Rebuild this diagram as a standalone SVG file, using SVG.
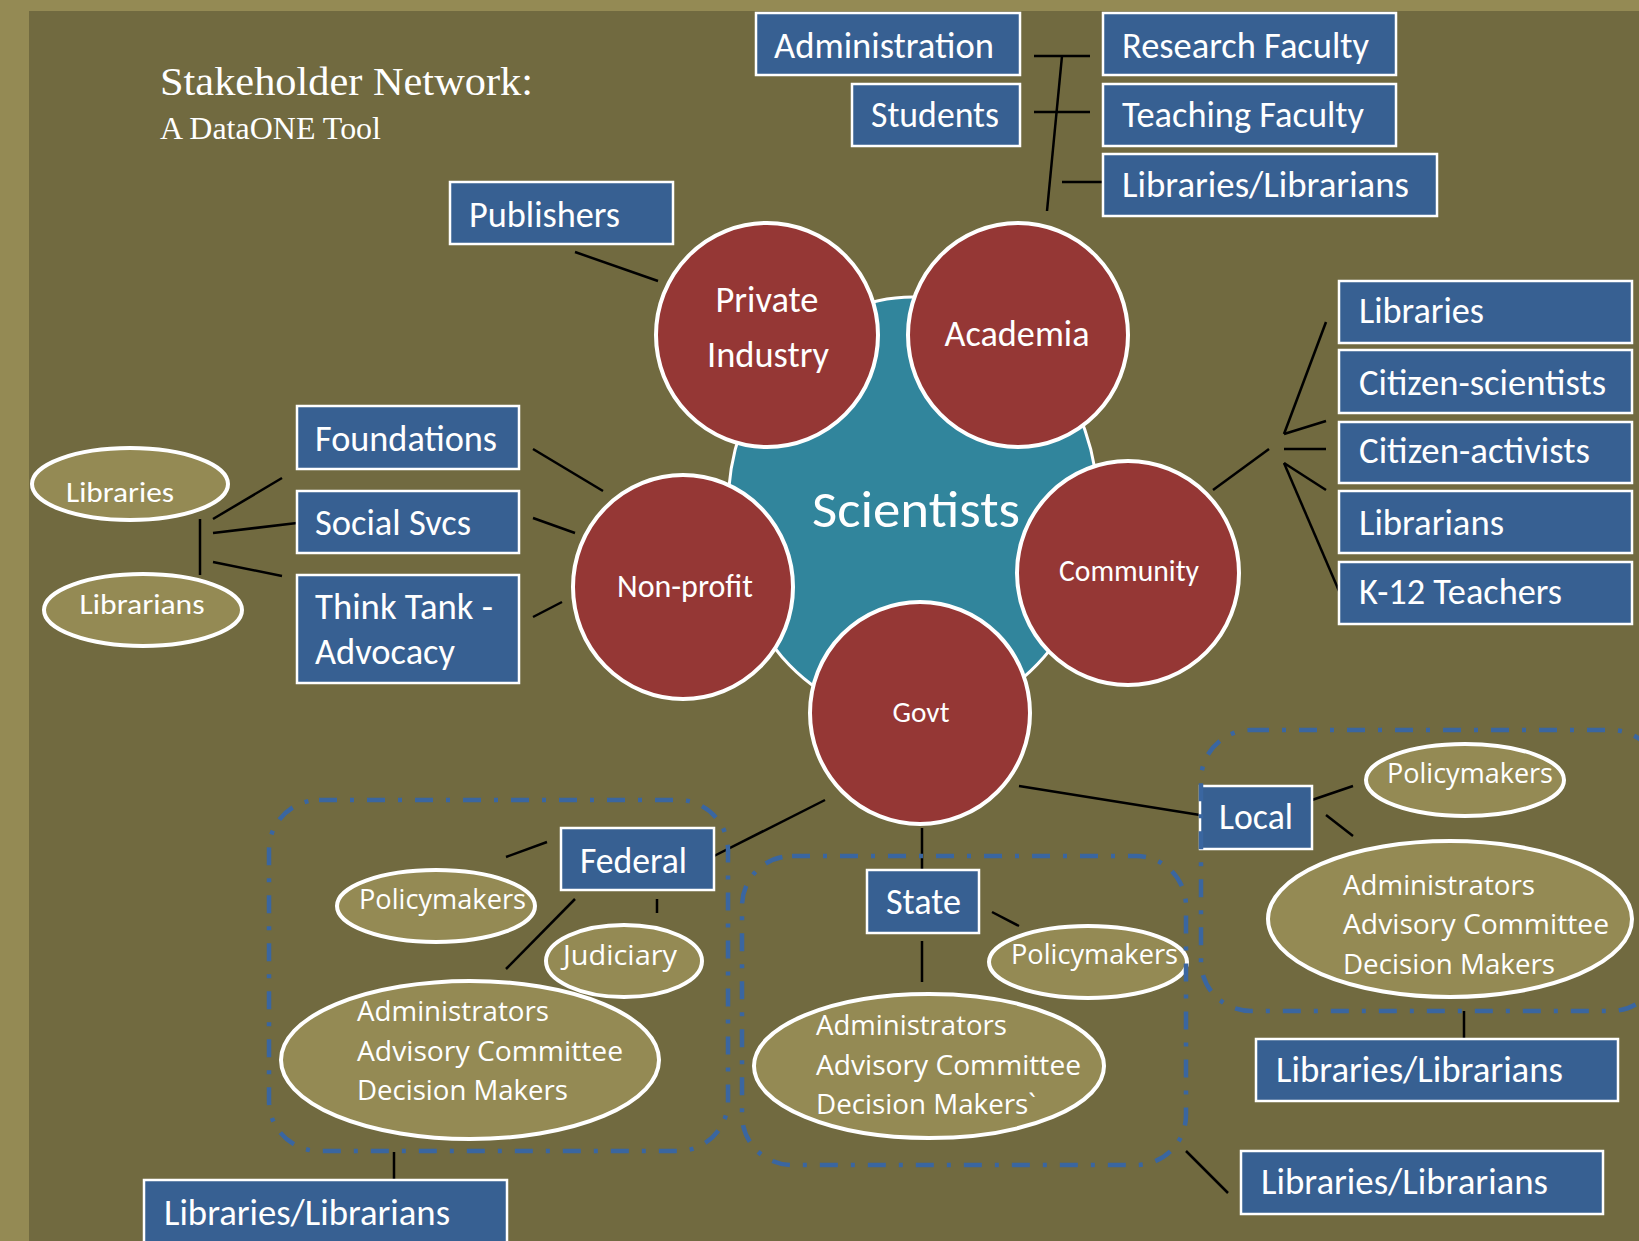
<svg xmlns="http://www.w3.org/2000/svg" width="1639" height="1241" viewBox="0 0 1639 1241">
<defs>
<style>
.bg{fill:#948A54}
.inner{fill:#716A40}
.box{fill:#376092;stroke:#FFFFFF;stroke-width:2.5}
.red{fill:#953735;stroke:#FFFFFF;stroke-width:4}
.teal{fill:#31859C;stroke:#FFFFFF;stroke-width:3}
.ell{fill:#948A54;stroke:#FFFFFF;stroke-width:4}
.grp{fill:none;stroke:#3A66A0;stroke-width:4.5;stroke-dasharray:18 13 4 13}
.ln{stroke:#000000;stroke-width:2.5;fill:none}
.bt{font-family:Carlito,Lato,"Open Sans",sans-serif;font-size:36px;fill:#FFFFFF}
.ct{font-family:Carlito,Lato,"Open Sans",sans-serif;fill:#FFFFFF;text-anchor:middle}
.et{font-family:"Open Sans","Noto Sans",sans-serif;font-size:28px;fill:#FFFFFF}
.lt{font-family:Carlito,Lato,"Open Sans",sans-serif;font-size:29px;fill:#FFFFFF;text-anchor:middle}
.title{font-family:"Liberation Serif","Times New Roman",serif;fill:#FFFFFF}
</style>
</defs>
<rect class="bg" x="0" y="0" width="1639" height="1241"/>
<rect class="inner" x="29" y="11" width="1610" height="1230"/>
<g id="title">
<text class="title" x="160" y="95" font-size="41" textLength="373" lengthAdjust="spacingAndGlyphs">Stakeholder Network:</text>
<text class="title" x="160" y="139" font-size="31" textLength="221" lengthAdjust="spacingAndGlyphs">A DataONE Tool</text>
</g>
<g id="connectors">
<line class="ln" x1="575" y1="252" x2="658" y2="281"/>
<line class="ln" x1="1034" y1="56" x2="1090" y2="56"/>
<line class="ln" x1="1034" y1="112" x2="1090" y2="112"/>
<line class="ln" x1="1062" y1="182" x2="1103" y2="182"/>
<line class="ln" x1="1062" y1="56" x2="1047" y2="211"/>
<line class="ln" x1="533" y1="449" x2="603" y2="491"/>
<line class="ln" x1="533" y1="518" x2="575" y2="533"/>
<line class="ln" x1="533" y1="617" x2="562" y2="602"/>
<line class="ln" x1="200" y1="519" x2="200" y2="575"/>
<line class="ln" x1="213" y1="519" x2="282" y2="478"/>
<line class="ln" x1="213" y1="533" x2="297" y2="523"/>
<line class="ln" x1="213" y1="562" x2="282" y2="576"/>
<line class="ln" x1="1213" y1="490" x2="1269" y2="449"/>
<line class="ln" x1="1284" y1="434" x2="1326" y2="322"/>
<line class="ln" x1="1284" y1="434" x2="1326" y2="421"/>
<line class="ln" x1="1284" y1="449" x2="1326" y2="449"/>
<line class="ln" x1="1284" y1="463" x2="1326" y2="490"/>
<line class="ln" x1="1284" y1="463" x2="1339" y2="591"/>
<line class="ln" x1="825" y1="800" x2="714" y2="856"/>
<line class="ln" x1="922" y1="828" x2="922" y2="870"/>
<line class="ln" x1="1019" y1="786" x2="1200" y2="815"/>
<line class="ln" x1="506" y1="857" x2="547" y2="842"/>
<line class="ln" x1="575" y1="899" x2="506" y2="969"/>
<line class="ln" x1="657" y1="899" x2="657" y2="913"/>
<line class="ln" x1="394" y1="1152" x2="394" y2="1180"/>
<line class="ln" x1="922" y1="941" x2="922" y2="982"/>
<line class="ln" x1="992" y1="912" x2="1019" y2="926"/>
<line class="ln" x1="1186" y1="1151" x2="1228" y2="1193"/>
<line class="ln" x1="1312" y1="800" x2="1353" y2="786"/>
<line class="ln" x1="1326" y1="815" x2="1353" y2="836"/>
<line class="ln" x1="1464" y1="1011" x2="1464" y2="1039"/>
</g>
<g id="scientists">
<ellipse class="teal" cx="913" cy="508" rx="185" ry="211"/>
<text class="ct" x="916" y="527" font-size="52" textLength="208" lengthAdjust="spacingAndGlyphs">Scientists</text>
</g>
<g id="private-industry">
<ellipse class="red" cx="767" cy="335" rx="111" ry="112"/>
<text class="ct" x="767" y="312" font-size="36" textLength="103" lengthAdjust="spacingAndGlyphs">Private</text>
<text class="ct" x="768" y="367" font-size="36" textLength="122" lengthAdjust="spacingAndGlyphs">Industry</text>
</g>
<g id="academia">
<ellipse class="red" cx="1018" cy="335" rx="110" ry="112"/>
<text class="ct" x="1017" y="346" font-size="36" textLength="145" lengthAdjust="spacingAndGlyphs">Academia</text>
</g>
<g id="non-profit">
<ellipse class="red" cx="683" cy="587" rx="110" ry="112"/>
<text class="ct" x="685" y="597" font-size="32" textLength="136" lengthAdjust="spacingAndGlyphs">Non-profit</text>
</g>
<g id="community">
<ellipse class="red" cx="1128" cy="573" rx="111" ry="112"/>
<text class="ct" x="1129" y="581" font-size="30" textLength="140" lengthAdjust="spacingAndGlyphs">Community</text>
</g>
<g id="govt">
<ellipse class="red" cx="920" cy="713" rx="110" ry="111"/>
<text class="ct" x="921" y="722" font-size="29" textLength="57" lengthAdjust="spacingAndGlyphs">Govt</text>
</g>
<g id="administration"><rect class="box" x="756" y="13" width="264" height="62"/><text class="bt" x="774" y="58" textLength="220" lengthAdjust="spacingAndGlyphs">Administration</text></g>
<g id="students"><rect class="box" x="852" y="84" width="168" height="62"/><text class="bt" x="871" y="127" textLength="128" lengthAdjust="spacingAndGlyphs">Students</text></g>
<g id="research-faculty"><rect class="box" x="1103" y="13" width="293" height="62"/><text class="bt" x="1122" y="58" textLength="247" lengthAdjust="spacingAndGlyphs">Research Faculty</text></g>
<g id="teaching-faculty"><rect class="box" x="1103" y="84" width="293" height="62"/><text class="bt" x="1122" y="127" textLength="242" lengthAdjust="spacingAndGlyphs">Teaching Faculty</text></g>
<g id="academia-libraries-librarians"><rect class="box" x="1103" y="154" width="334" height="62"/><text class="bt" x="1122" y="197" textLength="287" lengthAdjust="spacingAndGlyphs">Libraries/Librarians</text></g>
<g id="publishers"><rect class="box" x="450" y="182" width="223" height="62"/><text class="bt" x="469" y="227" textLength="151" lengthAdjust="spacingAndGlyphs">Publishers</text></g>
<g id="libraries-box"><rect class="box" x="1339" y="281" width="293" height="62"/><text class="bt" x="1359" y="323" textLength="125" lengthAdjust="spacingAndGlyphs">Libraries</text></g>
<g id="citizen-scientists"><rect class="box" x="1339" y="350" width="293" height="63"/><text class="bt" x="1359" y="395" textLength="247" lengthAdjust="spacingAndGlyphs">Citizen-scientists</text></g>
<g id="citizen-activists"><rect class="box" x="1339" y="422" width="293" height="61"/><text class="bt" x="1359" y="463" textLength="231" lengthAdjust="spacingAndGlyphs">Citizen-activists</text></g>
<g id="librarians-box"><rect class="box" x="1339" y="491" width="293" height="62"/><text class="bt" x="1359" y="535" textLength="145" lengthAdjust="spacingAndGlyphs">Librarians</text></g>
<g id="k12-teachers"><rect class="box" x="1339" y="562" width="293" height="62"/><text class="bt" x="1359" y="604" textLength="203" lengthAdjust="spacingAndGlyphs">K-12 Teachers</text></g>
<g id="foundations"><rect class="box" x="297" y="406" width="222" height="63"/><text class="bt" x="315" y="451" textLength="182" lengthAdjust="spacingAndGlyphs">Foundations</text></g>
<g id="social-svcs"><rect class="box" x="297" y="491" width="222" height="62"/><text class="bt" x="315" y="535" textLength="156" lengthAdjust="spacingAndGlyphs">Social Svcs</text></g>
<g id="think-tank"><rect class="box" x="297" y="575" width="222" height="108"/><text class="bt" x="315" y="619" textLength="178" lengthAdjust="spacingAndGlyphs">Think Tank -</text><text class="bt" x="315" y="664" textLength="140" lengthAdjust="spacingAndGlyphs">Advocacy</text></g>
<g id="libraries-ellipse"><ellipse class="ell" cx="130" cy="484" rx="98" ry="36"/><text class="lt" x="120" y="502" textLength="108" lengthAdjust="spacingAndGlyphs">Libraries</text></g>
<g id="librarians-ellipse"><ellipse class="ell" cx="143" cy="610" rx="99" ry="36"/><text class="lt" x="142" y="614" textLength="125" lengthAdjust="spacingAndGlyphs">Librarians</text></g>
<g id="federal"><rect class="box" x="561" y="828" width="153" height="62"/><text class="bt" x="580" y="873" textLength="107" lengthAdjust="spacingAndGlyphs">Federal</text></g>
<g id="federal-policymakers"><ellipse class="ell" cx="436" cy="906" rx="99" ry="36"/><text class="et" x="359" y="909" textLength="167" lengthAdjust="spacingAndGlyphs">Policymakers</text></g>
<g id="judiciary"><ellipse class="ell" cx="624" cy="961" rx="78" ry="36"/><text class="et" x="563" y="965" textLength="114" lengthAdjust="spacingAndGlyphs">Judiciary</text></g>
<g id="federal-admin"><ellipse class="ell" cx="470" cy="1060" rx="189" ry="79"/><text class="et" x="357" y="1021" textLength="192" lengthAdjust="spacingAndGlyphs">Administrators</text><text class="et" x="357" y="1061" textLength="266" lengthAdjust="spacingAndGlyphs">Advisory Committee</text><text class="et" x="357" y="1100" textLength="211" lengthAdjust="spacingAndGlyphs">Decision Makers</text></g>
<g id="federal-libraries-librarians"><rect class="box" x="144" y="1180" width="363" height="70"/><text class="bt" x="164" y="1225" textLength="286" lengthAdjust="spacingAndGlyphs">Libraries/Librarians</text></g>
<g id="state"><rect class="box" x="867" y="870" width="112" height="63"/><text class="bt" x="886" y="914" textLength="75" lengthAdjust="spacingAndGlyphs">State</text></g>
<g id="state-policymakers"><ellipse class="ell" cx="1088" cy="962" rx="99" ry="36"/><text class="et" x="1011" y="964" textLength="167" lengthAdjust="spacingAndGlyphs">Policymakers</text></g>
<g id="state-admin"><ellipse class="ell" cx="929" cy="1066" rx="175" ry="72"/><text class="et" x="816" y="1035" textLength="191" lengthAdjust="spacingAndGlyphs">Administrators</text><text class="et" x="816" y="1075" textLength="265" lengthAdjust="spacingAndGlyphs">Advisory Committee</text><text class="et" x="816" y="1114" textLength="220" lengthAdjust="spacingAndGlyphs">Decision Makers`</text></g>
<g id="state-libraries-librarians"><rect class="box" x="1241" y="1151" width="362" height="63"/><text class="bt" x="1261" y="1194" textLength="287" lengthAdjust="spacingAndGlyphs">Libraries/Librarians</text></g>
<g id="local"><rect class="box" x="1200" y="786" width="112" height="63"/><text class="bt" x="1219" y="829" textLength="74" lengthAdjust="spacingAndGlyphs">Local</text></g>
<g id="local-policymakers"><ellipse class="ell" cx="1465" cy="780" rx="99" ry="36"/><text class="et" x="1387" y="783" textLength="166" lengthAdjust="spacingAndGlyphs">Policymakers</text></g>
<g id="local-admin"><ellipse class="ell" cx="1450" cy="919" rx="182" ry="78"/><text class="et" x="1343" y="895" textLength="192" lengthAdjust="spacingAndGlyphs">Administrators</text><text class="et" x="1343" y="934" textLength="266" lengthAdjust="spacingAndGlyphs">Advisory Committee</text><text class="et" x="1343" y="974" textLength="212" lengthAdjust="spacingAndGlyphs">Decision Makers</text></g>
<g id="local-libraries-librarians"><rect class="box" x="1256" y="1039" width="362" height="62"/><text class="bt" x="1276" y="1082" textLength="287" lengthAdjust="spacingAndGlyphs">Libraries/Librarians</text></g>
<g id="group-outlines">
<rect class="grp" x="269" y="800" width="459" height="351" rx="50" ry="50"/>
<rect class="grp" x="742" y="856" width="444" height="309" rx="50" ry="50"/>
<rect class="grp" x="1201" y="730" width="460" height="281" rx="50" ry="50"/>
</g>
</svg>
